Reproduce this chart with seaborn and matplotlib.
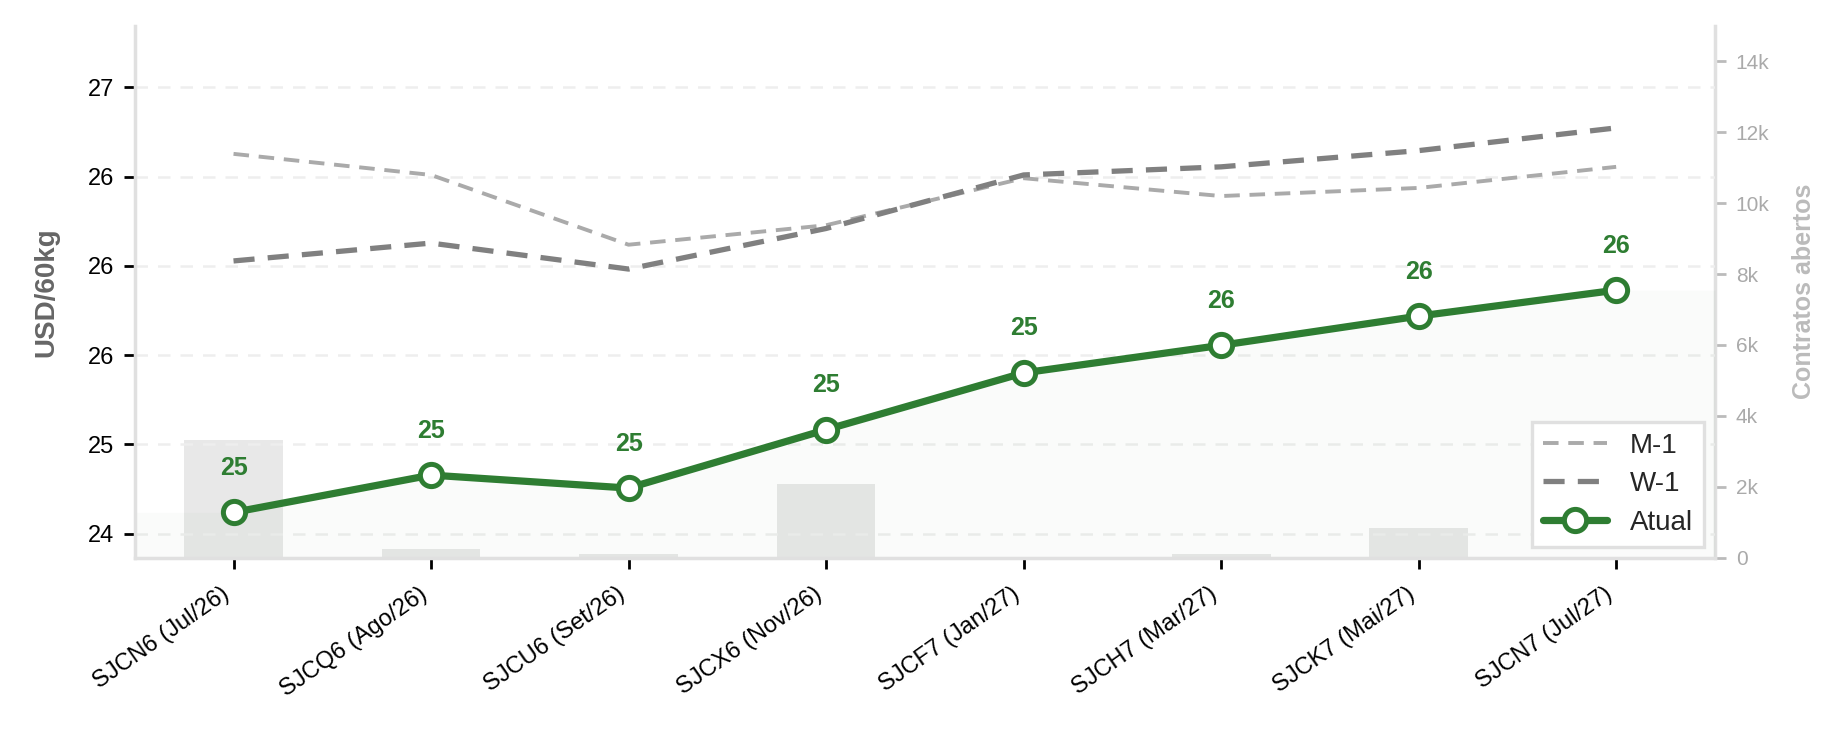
import matplotlib
matplotlib.use("Agg")
import matplotlib.pyplot as plt
import seaborn as sns
import numpy as np
import pandas as pd

contratos = ["SJCN6 (Jul/26)", "SJCQ6 (Ago/26)", "SJCU6 (Set/26)", "SJCX6 (Nov/26)",
             "SJCF7 (Jan/27)", "SJCH7 (Mar/27)", "SJCK7 (Mai/27)", "SJCN7 (Jul/27)"]
atual = [24.53, 24.76, 24.68, 25.04, 25.39, 25.56, 25.74, 25.90]
m1 = [26.74, 26.61, 26.18, 26.30, 26.59, 26.48, 26.53, 26.66]
w1 = [26.08, 26.19, 26.03, 26.28, 26.61, 26.66, 26.76, 26.90]
open_interest = [3310, 260, 100, 2090, 0, 100, 830, 0]

y_ticks = [24.4, 24.95, 25.5, 26.05, 26.6, 27.15]
y_tick_labels = ["24", "25", "26", "26", "26", "27"]
oi_ticks = [0, 2000, 4000, 6000, 8000, 10000, 12000, 14000]

GREEN = "#2e7d32"
SPINE = "#e0e0e0"

sns.set_theme(style="ticks")
plt.rcParams['font.family'] = ['Liberation Sans', 'DejaVu Sans']

df = pd.DataFrame({"x": np.arange(len(contratos)), "contrato": contratos,
                   "atual": atual, "m1": m1, "w1": w1, "oi": open_interest})

fig, ax = plt.subplots(figsize=(9.23, 3.67), dpi=200)
fig.subplots_adjust(left=0.073, right=0.929, top=0.965, bottom=0.240)
ax2 = ax.twinx()

# open interest bars on the secondary axis, kept behind the price lines
sns.barplot(data=df, x="x", y="oi", ax=ax2, color="#e8e8e8", width=0.5,
            saturation=1, edgecolor="none")
ax2.set_ylim(0, 15000)
ax2.set_yticks(oi_ticks)
ax2.set_yticklabels(["0" if t == 0 else f"{t // 1000}k" for t in oi_ticks])
ax2.tick_params(axis="y", colors="#bbbbbb", labelcolor="#aaaaaa", labelsize=7.5,
                length=4, width=1)
ax2.set_ylabel("Contratos abertos", color="#bbbbbb", fontsize=9, fontweight="bold",
               labelpad=8)
ax2.set_xlabel("")
for s in ["left", "top", "bottom"]:
    ax2.spines[s].set_visible(False)
ax2.spines["right"].set_color(SPINE)

ax.set_zorder(ax2.get_zorder() + 1)
ax.patch.set_visible(False)

x = df["x"].to_numpy()
x_fill = np.r_[-0.5, x, len(x) - 0.5]
y_fill = np.r_[atual[0], atual, atual[-1]]
ax.fill_between(x_fill, y_fill, 24.0, color=GREEN, alpha=0.025, lw=0)

sns.lineplot(data=df, x="x", y="m1", ax=ax, color="#aaaaaa", lw=1.4,
             dashes=False, label="M-1")
sns.lineplot(data=df, x="x", y="w1", ax=ax, color="#808080", lw=1.9,
             dashes=False, label="W-1")
sns.lineplot(data=df, x="x", y="atual", ax=ax, color=GREEN, lw=2.6, marker="o",
             markersize=8, markerfacecolor="white", markeredgecolor=GREEN,
             markeredgewidth=1.8, label="Atual")
ax.lines[0].set_linestyle((0, (4, 2.5)))
ax.lines[1].set_linestyle((0, (4, 2.5)))

for xi, v in zip(x, atual):
    ax.annotate(f"{v:.0f}", (xi, v), xytext=(0, 16), textcoords="offset points",
                ha="center", va="center", fontsize=9, fontweight="bold", color=GREEN)

ax.set_xlim(-0.5, len(x) - 0.5)
ax2.set_xlim(-0.5, len(x) - 0.5)
ax.set_ylim(24.25, 27.53)
ax.set_yticks(y_ticks)
ax.set_yticklabels(y_tick_labels)
ax.set_xticks(x)
ax.set_xticklabels(contratos, rotation=35, ha="right")
ax.tick_params(axis="y", labelsize=8.5, length=4, width=1, colors="black")
ax.tick_params(axis="x", labelsize=8.5, length=4, width=1, colors="black", pad=5)
ax.set_xlabel("")
ax.set_ylabel("USD/60kg", color="#666666", fontsize=10, fontweight="bold", labelpad=10)
ax.grid(axis="y", ls=(0, (5, 4)), color="#eeeeee", lw=0.9)

ax.spines["top"].set_visible(False)
ax.spines["right"].set_visible(False)
ax.spines["left"].set_color(SPINE)
ax.spines["bottom"].set_color(SPINE)

leg = ax.legend(loc="lower right", fontsize=10, frameon=True, fancybox=False,
                framealpha=1, edgecolor=SPINE, handlelength=2.3, borderaxespad=0.4,
                labelspacing=0.45)
leg.get_frame().set_linewidth(1.2)

fig.savefig("out.png", dpi=200, facecolor="white")
